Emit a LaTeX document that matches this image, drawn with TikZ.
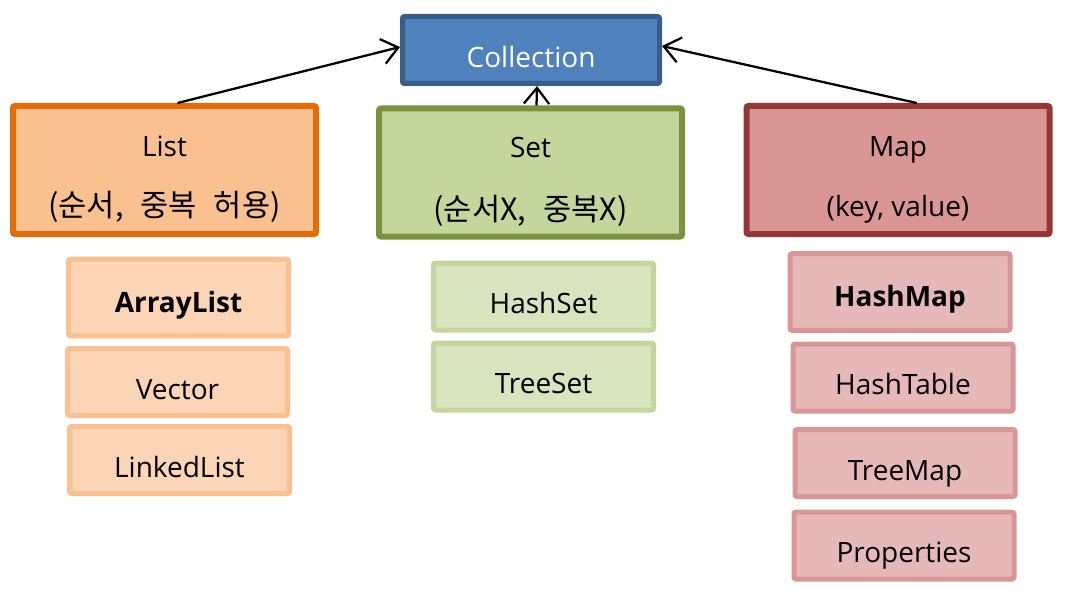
\documentclass[tikz,border=0pt]{standalone}
\usepackage{fontspec}
\setmainfont{Open Sans}
\newfontfamily\krfont{Noto Sans CJK KR}
\usetikzlibrary{arrows.meta}

\definecolor{collfill}{HTML}{4F81BD}
\definecolor{colldraw}{HTML}{385D8A}
\definecolor{listfill}{HTML}{FAC090}
\definecolor{listdraw}{HTML}{E46C0A}
\definecolor{listsub}{HTML}{FBD5B5}
\definecolor{setfill}{HTML}{C3D69B}
\definecolor{setdraw}{HTML}{77933C}
\definecolor{setsub}{HTML}{D7E4BD}
\definecolor{mapfill}{HTML}{D99694}
\definecolor{mapdraw}{HTML}{953735}
\definecolor{mapsub}{HTML}{E6B9B8}

\begin{document}
\begin{tikzpicture}[x=0.75pt, y=-0.75pt,
  every node/.style={font=\fontsize{21pt}{25pt}\selectfont, rounded corners=1.5pt},
  topbox/.style={draw, line width=4.5pt, minimum width=227.25pt, minimum height=96pt},
  subbox/.style={draw, line width=3.75pt, minimum width=165pt, minimum height=50.25pt, text height=25.5pt, text depth=0pt},
  firstsub/.style={subbox, minimum height=57.5pt, text height=22pt, font=\fontsize{21pt}{25pt}\selectfont\bfseries},
  krnote/.style={anchor=base, font=\fontsize{23pt}{27pt}\krfont},
  arr/.style={-{Straight Barb[length=12pt, width=19pt]}, line width=1.7pt}]
\useasboundingbox (0,0) rectangle (1080,602);

\node[draw=colldraw, fill=collfill, line width=3.75pt, minimum width=192.75pt, minimum height=50.25pt,
  text=white, text height=27pt, text depth=0pt] (coll) at (531,50) {Collection};

\node[topbox, draw=listdraw, fill=listfill] (list) at (164.5,170) {};
\node[anchor=base] (list-name) at (164.5,157) {List};
\node[krnote] (list-note) at (164.5,217) {(순서,\hspace{0.55em}중복\hspace{0.55em}허용)};

\node[topbox, draw=setdraw, fill=setfill] (set) at (530.5,172.5) {};
\node[anchor=base] (set-name) at (530.5,158) {Set};
\node[krnote] (set-note) at (530.5,220) {(순서X,\hspace{0.55em}중복X)};

\node[topbox, draw=mapdraw, fill=mapfill] (map) at (898,170) {};
\node[anchor=base] (map-name) at (898,157) {Map};
\node[anchor=base] (map-note) at (898,217) {(key,\ value)};

\node[firstsub, draw=listfill, fill=listsub] (arraylist) at (178.5,297.5) {ArrayList};
\node[subbox, draw=listfill, fill=listsub] (vector) at (177.5,382) {Vector};
\node[subbox, draw=listfill, fill=listsub] (linkedlist) at (179.5,460) {LinkedList};

\node[subbox, draw=setfill, fill=setsub] (hashset) at (543.5,296.5) {HashSet};
\node[subbox, draw=setfill, fill=setsub] (treeset) at (543.5,376.5) {TreeSet};

\node[firstsub, draw=mapfill, fill=mapsub] (hashmap) at (900,292) {HashMap};
\node[subbox, draw=mapfill, fill=mapsub] (hashtable) at (903,377.5) {HashTable};
\node[subbox, draw=mapfill, fill=mapsub] (treemap) at (905,463) {TreeMap};
\node[subbox, draw=mapfill, fill=mapsub] (properties) at (904,545.5) {Properties};

\draw[arr] ([xshift=9.75pt]list.north) -- ([yshift=2.25pt]coll.west);
\draw[arr] ([xshift=4.5pt]set.north) -- ([xshift=4.5pt]coll.south);
\draw[arr] ([xshift=14pt]map.north) -- ([yshift=3pt]coll.east);
\end{tikzpicture}
\end{document}
